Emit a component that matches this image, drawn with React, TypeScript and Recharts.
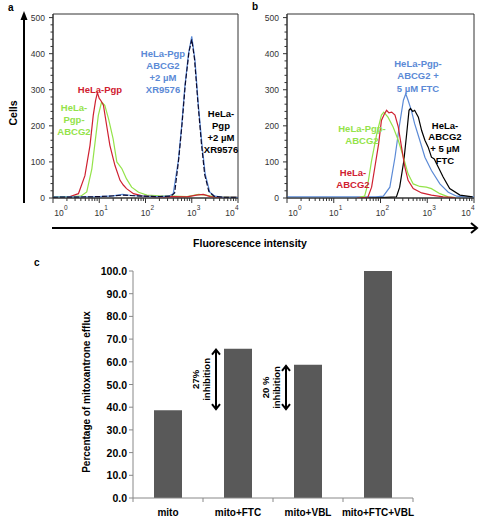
import React from 'react';
import { LineChart, Line, XAxis, YAxis, ReferenceArea, BarChart, Bar, LabelList } from 'recharts';

// histogram x values are log10(fluorescence), y values are cell counts
const DECADES = [0, 1, 2, 3, 4];
const COUNT_MAX = 510;

// panel a
const A_PGP = [[0.3, 0], [0.37, 4], [0.55, 12], [0.69, 62], [0.8, 146], [0.87, 229], [0.92, 270], [0.96, 292], [1.0, 276], [1.03, 271], [1.07, 262], [1.09, 257], [1.16, 201], [1.23, 146], [1.3, 110], [1.34, 90], [1.45, 49], [1.52, 36], [1.59, 26], [1.74, 12], [1.95, 5], [2.3, 3], [2.6, 4], [2.9, 3], [3.1, 8], [3.25, 10], [3.4, 4], [3.6, 2], [4, 2]];
const A_PGP_ABCG2 = [[0, 4], [0.4, 4], [0.6, 5], [0.73, 17], [0.84, 81], [0.91, 155], [0.98, 229], [1.05, 266], [1.12, 257], [1.2, 220], [1.3, 164], [1.38, 100], [1.44, 90], [1.49, 81], [1.59, 53], [1.7, 30], [1.85, 16], [2.03, 8], [2.3, 6], [2.6, 5], [2.9, 4], [3.15, 10], [3.3, 8], [3.5, 3], [4, 2]];
const A_PGP_ABCG2_XR = [[0, 3], [0.5, 3], [1.0, 4], [1.3, 6], [1.5, 10], [1.7, 7], [2.0, 5], [2.3, 4], [2.5, 5], [2.6, 12], [2.71, 104], [2.78, 197], [2.85, 308], [2.93, 400], [3.0, 448], [3.07, 382], [3.14, 262], [3.22, 150], [3.29, 67], [3.39, 16], [3.5, 5], [3.7, 2], [4, 2]];
const A_PGP_XR = [[0, 2], [0.8, 3], [1.2, 5], [1.5, 8], [1.8, 6], [2.2, 4], [2.55, 5], [2.63, 14], [2.72, 110], [2.79, 205], [2.86, 315], [2.94, 405], [3.0, 440], [3.06, 385], [3.13, 270], [3.21, 150], [3.28, 65], [3.37, 18], [3.48, 5], [3.7, 2], [4, 2]];

// panel b
const B_PGP_ABCG2_FTC = [[0, 3], [1.0, 3], [1.5, 3], [1.9, 3], [2.06, 5], [2.2, 30], [2.31, 113], [2.4, 197], [2.49, 271], [2.54, 289], [2.59, 271], [2.66, 243], [2.73, 206], [2.84, 160], [2.95, 113], [3.09, 76], [3.27, 39], [3.45, 16], [3.63, 5], [3.8, 3], [4, 3]];
const B_ABCG2_FTC = [[1.6, 0], [2.0, 1], [2.34, 3], [2.41, 30], [2.5, 104], [2.56, 178], [2.61, 243], [2.64, 248], [2.69, 240], [2.73, 243], [2.81, 224], [2.88, 187], [2.95, 160], [3.02, 141], [3.09, 113], [3.15, 108], [3.2, 95], [3.34, 58], [3.48, 26], [3.7, 8], [3.97, 3]];
const B_ABCG2 = [[1.5, 0], [1.73, 2], [1.81, 30], [1.88, 86], [1.96, 150], [2.02, 215], [2.08, 232], [2.13, 243], [2.18, 236], [2.24, 238], [2.31, 230], [2.38, 197], [2.45, 141], [2.52, 86], [2.59, 49], [2.7, 26], [2.88, 14], [3.09, 8], [3.34, 3], [3.6, 1]];
const B_PGP_ABCG2 = [[1.55, 2], [1.66, 5], [1.73, 39], [1.81, 104], [1.92, 178], [2.02, 230], [2.07, 238], [2.16, 224], [2.27, 197], [2.38, 160], [2.49, 113], [2.59, 67], [2.7, 39], [2.84, 32], [2.98, 30], [3.09, 26], [3.27, 12], [3.45, 3], [3.6, 1]];

// panel c
const CONDITIONS = ['mito', 'mito+FTC', 'mito+VBL', 'mito+FTC+VBL'];
const EFFLUX = [38.7, 65.8, 58.7, 100.0];
const INHIBITION = ['', '27%', '20 %', ''];
const EFFLUX_TICKS = [0, 10, 20, 30, 40, 50, 60, 70, 80, 90, 100];

const RED = '#cf2030';
const GREEN = '#94e34a';
const BLUE = '#5b8ad6';
const BLACK = '#000000';
const FONT = '"Liberation Sans", Arial, sans-serif';

const xTicks: number[] = [...DECADES];
DECADES.slice(0, -1).forEach((d) => {
  for (let k = 2; k <= 9; k++) xTicks.push(d + Math.log10(k));
});
const yTicks: number[] = [];
for (let v = 0; v <= 500; v += 20) yTicks.push(v);

const pts = (arr: number[][]) => arr.map(([x, y]) => ({ x, y }));

const LogTick = (props: any) => {
  const { x, y, payload } = props;
  const v = payload.value;
  const major = Math.abs(v - Math.round(v)) < 1e-6;
  const shift = v === 0 ? 6 : v === 4 ? -8 : 0;
  return (
    <g>
      <line x1={x} x2={x} y1={y} y2={y + (major ? 5 : 3)} stroke="#333" />
      {major && (
        <g fontFamily={FONT} fill="#333">
          <text x={x + shift} y={y + 18} fontSize={8.5} textAnchor="middle">10</text>
          <text x={x + shift + 5} y={y + 12} fontSize={6.5}>{Math.round(v)}</text>
        </g>
      )}
    </g>
  );
};

const CountTick = (props: any) => {
  const { x, y, payload } = props;
  const v = payload.value;
  const major = v % 100 === 0;
  return (
    <g>
      <line x1={x} x2={x - (major ? 4 : 2.5)} y1={y} y2={y} stroke="#333" />
      {major && (
        <text x={x - 8} y={y + 3} fontSize={8.5} textAnchor="end" fill="#333" fontFamily={FONT}>{v}</text>
      )}
    </g>
  );
};

type Series = { data: number[][]; color: string; dash?: string };

const Histogram = ({ series, yAxisWidth, width, right }: { series: Series[]; yAxisWidth: number; width: number; right: number }) => (
  <LineChart width={width} height={235} margin={{ top: 14, right, bottom: 0, left: 0 }}>
    <XAxis type="number" dataKey="x" domain={[0, 4]} ticks={xTicks} interval={0} tick={<LogTick />} tickSize={0} tickMargin={0} height={37} stroke="#333" allowDataOverflow />
    <YAxis type="number" dataKey="y" domain={[0, COUNT_MAX]} ticks={yTicks} interval={0} tick={<CountTick />} tickSize={0} tickMargin={0} width={yAxisWidth} stroke="#333" allowDataOverflow />
    <ReferenceArea x1={0} x2={4} y1={0} y2={COUNT_MAX} fill="none" stroke="#333" strokeWidth={1} />
    {series.map((s, i) => (
      <Line key={i} data={pts(s.data)} dataKey="y" type="linear" stroke={s.color} strokeDasharray={s.dash} strokeWidth={1.2} dot={false} isAnimationActive={false} />
    ))}
  </LineChart>
);

const Tag = ({ x, y, lines, color, step = 12 }: { x: number; y: number; lines: string[]; color: string; step?: number }) => (
  <text fill={color} fontSize={9.5} fontWeight="bold" fontFamily={FONT} textAnchor="middle">
    {lines.map((l, i) => (
      <tspan key={i} x={x} y={y + i * step} dominantBaseline="central">{l}</tspan>
    ))}
  </text>
);

const C_LEFT = 133;
const C_RIGHT = 67;
const C_W = 480;

const CategoryTick = (props: any) => {
  const { x, y, payload, index } = props;
  const band = (C_W - C_LEFT - C_RIGHT) / CONDITIONS.length;
  return (
    <g>
      <line x1={x - band / 2} x2={x - band / 2} y1={y} y2={y + 4} stroke="#888" />
      {index === CONDITIONS.length - 1 && <line x1={x + band / 2} x2={x + band / 2} y1={y} y2={y + 4} stroke="#888" />}
      <text x={x} y={y + 18} textAnchor="middle" fontSize={10} fontWeight="bold" fontFamily={FONT} fill="#000">{payload.value}</text>
    </g>
  );
};

const EffluxTick = (props: any) => {
  const { x, y, payload } = props;
  return (
    <g>
      <line x1={x} x2={x - 4} y1={y} y2={y} stroke="#888" />
      <text x={x - 6} y={y + 4} textAnchor="end" fontSize={10.5} fontWeight="bold" fontFamily={FONT} fill="#000">{payload.value.toFixed(1)}</text>
    </g>
  );
};

const renderNote = (props: any) => {
  const index = props.index;
  const note = INHIBITION[index];
  if (!note) return null;
  const vb = props.viewBox ?? props;
  const { x, y, height } = vb;
  const bottom = y + height * (1 - EFFLUX[0] / EFFLUX[index]);
  const ax = x - 8;
  const mid = (y + bottom) / 2;
  return (
    <g>
      <line x1={ax} x2={ax} y1={y + 1} y2={bottom - 1} stroke="#000" strokeWidth={2} />
      <polyline points={`${ax - 4},${y + 6} ${ax},${y + 1} ${ax + 4},${y + 6}`} fill="none" stroke="#000" strokeWidth={2} />
      <polyline points={`${ax - 4},${bottom - 6} ${ax},${bottom - 1} ${ax + 4},${bottom - 6}`} fill="none" stroke="#000" strokeWidth={2} />
      <g fontSize={9.5} fontWeight="bold" fontFamily={FONT} fill="#000" textAnchor="middle">
        <text transform={`translate(${x - 29},${mid}) rotate(-90)`} dominantBaseline="central">{note}</text>
        <text transform={`translate(${x - 17.5},${mid}) rotate(-90)`} dominantBaseline="central">inhibition</text>
      </g>
    </g>
  );
};

const barData = CONDITIONS.map((name, i) => ({ name, value: EFFLUX[i] }));

export default function App() {
  return (
    <div style={{ position: 'absolute', left: 0, top: 0, width: 480, height: 517, background: '#fff', fontFamily: FONT }}>
      <div style={{ position: 'absolute', left: 0, top: 0 }}>
        <Histogram
          width={245}
          right={7}
          yAxisWidth={53}
          series={[
            { data: A_PGP_ABCG2, color: GREEN },
            { data: A_PGP, color: RED },
            { data: A_PGP_ABCG2_XR, color: BLUE },
            { data: A_PGP_XR, color: '#0a0a30', dash: '5 2' },
          ]}
        />
      </div>
      <div style={{ position: 'absolute', left: 240, top: 0 }}>
        <Histogram
          width={240}
          right={6}
          yAxisWidth={47}
          series={[
            { data: B_PGP_ABCG2_FTC, color: BLUE },
            { data: B_ABCG2_FTC, color: BLACK },
            { data: B_PGP_ABCG2, color: GREEN },
            { data: B_ABCG2, color: RED },
          ]}
        />
      </div>
      <div style={{ position: 'absolute', left: 0, top: 255 }}>
        <BarChart width={C_W} height={262} data={barData} margin={{ top: 16, right: C_RIGHT, bottom: 0, left: 0 }}>
          <XAxis dataKey="name" interval={0} tick={<CategoryTick />} tickSize={0} tickMargin={0} height={19} stroke="#888" />
          <YAxis domain={[0, 100]} ticks={EFFLUX_TICKS} interval={0} tick={<EffluxTick />} tickSize={0} tickMargin={0} width={C_LEFT} stroke="#888" />
          <Bar dataKey="value" fill="#595959" barSize={28} isAnimationActive={false}>
            <LabelList content={renderNote} />
          </Bar>
        </BarChart>
      </div>
      <svg width={480} height={517} style={{ position: 'absolute', left: 0, top: 0, pointerEvents: 'none' }}>
        <g fontFamily={FONT} fontWeight="bold" fill="#000">
          <text x={8} y={11} fontSize={10}>a</text>
          <text x={252} y={10} fontSize={10}>b</text>
          <text x={34} y={266} fontSize={10}>c</text>
          <text transform="translate(13,113) rotate(-90)" textAnchor="middle" dominantBaseline="central" fontSize={10.5}>Cells</text>
          <text x={250} y={243} textAnchor="middle" dominantBaseline="central" fontSize={10.5}>Fluorescence intensity</text>
          <text transform="translate(86,392) rotate(-90)" textAnchor="middle" dominantBaseline="central" fontSize={10}>Percentage of mitoxantrone efflux</text>
        </g>
        <line x1={24} x2={24} y1={203} y2={18} stroke="#000" strokeWidth={2} />
        <polygon points="24,11 20.5,20 27.5,20" fill="#000" />
        <line x1={52} x2={476} y1={228} y2={228} stroke="#000" strokeWidth={2} />
        <polyline points="471,223 477,228 471,233" fill="none" stroke="#000" strokeWidth={2} />
        <Tag x={100} y={89} lines={['HeLa-Pgp']} color={RED} />
        <Tag x={74} y={107} lines={['HeLa-', 'Pgp-', 'ABCG2']} color={GREEN} />
        <Tag x={163} y={53} lines={['HeLa-Pgp', 'ABCG2', '+2 µM', 'XR9576']} color={BLUE} step={12.3} />
        <Tag x={221} y={113} lines={['HeLa-', 'Pgp', '+2 µM', 'XR9576']} color={BLACK} />
        <Tag x={418} y={63} lines={['HeLa-Pgp-', 'ABCG2 +', '5 µM FTC']} color={BLUE} step={12.5} />
        <Tag x={362} y={128} lines={['HeLa-Pgp-', 'ABCG2']} color={GREEN} step={12.5} />
        <Tag x={353} y={172} lines={['HeLa-', 'ABCG2']} color={RED} />
        <Tag x={445} y={125} lines={['HeLa-', 'ABCG2', '+ 5 µM', 'FTC']} color={BLACK} step={11.8} />
      </svg>
    </div>
  );
}
